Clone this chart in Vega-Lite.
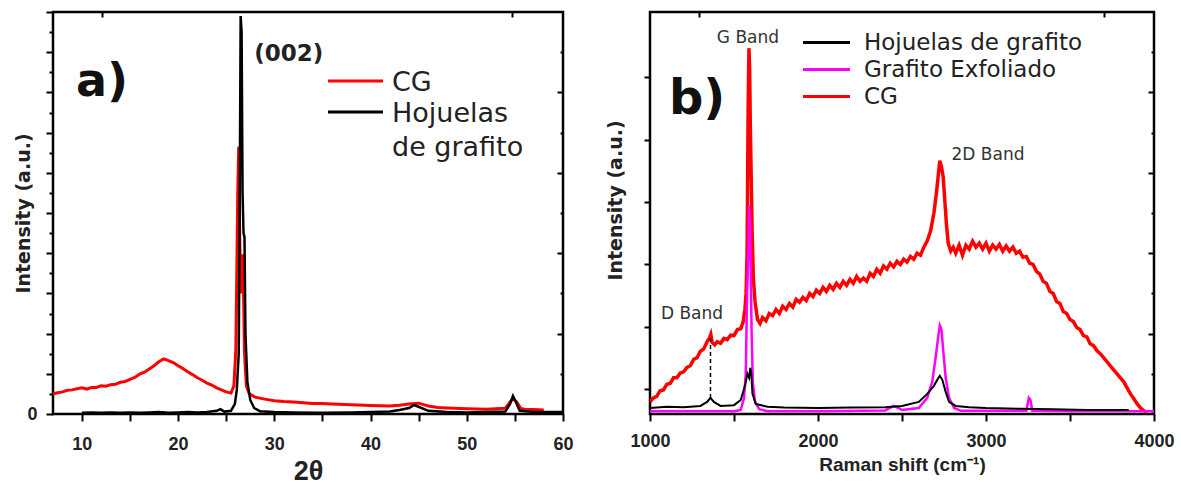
{
  "$schema": "https://vega.github.io/schema/vega-lite/v6.json",
  "background": "white",
  "padding": {"left": 12, "top": 1, "right": 0, "bottom": 0},
  "config": {
    "view": {"stroke": "black", "strokeWidth": 2.5},
    "axis": {"domain": false, "grid": false, "tickColor": "black", "tickWidth": 2, "labelFont": "Liberation Sans", "labelFontWeight": "bold", "labelFontSize": 18, "labelColor": "#222", "titleColor": "#222", "titleFont": "DejaVu Sans", "titleFontWeight": "bold"},
    "text": {"font": "DejaVu Sans"}
  },
  "datasets": {
    "xrd": [
      {"x":7,"y":0.5,"s":"CG"},{"x":7.5,"y":0.53,"s":"CG"},{"x":8,"y":0.55,"s":"CG"},{"x":8.5,"y":0.59,"s":"CG"},{"x":9,"y":0.6,"s":"CG"},{"x":9.5,"y":0.63,"s":"CG"},{"x":10,"y":0.65,"s":"CG"},{"x":10.5,"y":0.62,"s":"CG"},{"x":11,"y":0.66,"s":"CG"},{"x":11.5,"y":0.66,"s":"CG"},{"x":12,"y":0.7,"s":"CG"},{"x":12.5,"y":0.69,"s":"CG"},{"x":13,"y":0.73,"s":"CG"},{"x":13.5,"y":0.74,"s":"CG"},{"x":14,"y":0.79,"s":"CG"},{"x":14.5,"y":0.81,"s":"CG"},{"x":15,"y":0.86,"s":"CG"},{"x":15.5,"y":0.91,"s":"CG"},{"x":16,"y":0.99,"s":"CG"},{"x":16.5,"y":1.04,"s":"CG"},{"x":17,"y":1.12,"s":"CG"},{"x":17.5,"y":1.2,"s":"CG"},{"x":18,"y":1.3,"s":"CG"},{"x":18.5,"y":1.37,"s":"CG"},{"x":19,"y":1.33,"s":"CG"},{"x":19.5,"y":1.28,"s":"CG"},{"x":20,"y":1.2,"s":"CG"},{"x":20.5,"y":1.13,"s":"CG"},{"x":21,"y":1.05,"s":"CG"},{"x":21.5,"y":0.98,"s":"CG"},{"x":22,"y":0.9,"s":"CG"},{"x":22.5,"y":0.84,"s":"CG"},{"x":23,"y":0.77,"s":"CG"},{"x":23.5,"y":0.72,"s":"CG"},{"x":24,"y":0.65,"s":"CG"},{"x":24.5,"y":0.6,"s":"CG"},{"x":25,"y":0.55,"s":"CG"},{"x":25.5,"y":0.52,"s":"CG"},{"x":25.8,"y":0.7,"s":"CG"},{"x":26.0,"y":1.6,"s":"CG"},{"x":26.1,"y":3.5,"s":"CG"},{"x":26.2,"y":5.5,"s":"CG"},{"x":26.3,"y":6.65,"s":"CG"},{"x":26.4,"y":4.5,"s":"CG"},{"x":26.5,"y":3.0,"s":"CG"},{"x":26.6,"y":3.6,"s":"CG"},{"x":26.7,"y":3.97,"s":"CG"},{"x":26.8,"y":3.0,"s":"CG"},{"x":26.9,"y":1.5,"s":"CG"},{"x":27.1,"y":0.7,"s":"CG"},{"x":27.4,"y":0.5,"s":"CG"},{"x":28,"y":0.42,"s":"CG"},{"x":29,"y":0.37,"s":"CG"},{"x":30,"y":0.33,"s":"CG"},{"x":31,"y":0.31,"s":"CG"},{"x":32,"y":0.3,"s":"CG"},{"x":33,"y":0.28,"s":"CG"},{"x":34,"y":0.26,"s":"CG"},{"x":35,"y":0.26,"s":"CG"},{"x":36,"y":0.25,"s":"CG"},{"x":38,"y":0.23,"s":"CG"},{"x":40,"y":0.21,"s":"CG"},{"x":42,"y":0.2,"s":"CG"},{"x":43,"y":0.22,"s":"CG"},{"x":44,"y":0.25,"s":"CG"},{"x":45,"y":0.27,"s":"CG"},{"x":46,"y":0.2,"s":"CG"},{"x":47,"y":0.16,"s":"CG"},{"x":48,"y":0.15,"s":"CG"},{"x":50,"y":0.13,"s":"CG"},{"x":52,"y":0.12,"s":"CG"},{"x":54,"y":0.14,"s":"CG"},{"x":54.5,"y":0.3,"s":"CG"},{"x":54.8,"y":0.38,"s":"CG"},{"x":55.2,"y":0.3,"s":"CG"},{"x":55.6,"y":0.14,"s":"CG"},{"x":56,"y":0.12,"s":"CG"},{"x":57,"y":0.11,"s":"CG"},{"x":58,"y":0.1,"s":"CG"},
      {"x":10,"y":0.03,"s":"Hojuelas de grafito"},{"x":11,"y":0.04,"s":"Hojuelas de grafito"},{"x":12,"y":0.03,"s":"Hojuelas de grafito"},{"x":13,"y":0.04,"s":"Hojuelas de grafito"},{"x":14,"y":0.03,"s":"Hojuelas de grafito"},{"x":15,"y":0.04,"s":"Hojuelas de grafito"},{"x":16,"y":0.03,"s":"Hojuelas de grafito"},{"x":17,"y":0.04,"s":"Hojuelas de grafito"},{"x":18,"y":0.05,"s":"Hojuelas de grafito"},{"x":19,"y":0.03,"s":"Hojuelas de grafito"},{"x":20,"y":0.04,"s":"Hojuelas de grafito"},{"x":21,"y":0.05,"s":"Hojuelas de grafito"},{"x":22,"y":0.04,"s":"Hojuelas de grafito"},{"x":23,"y":0.05,"s":"Hojuelas de grafito"},{"x":24,"y":0.08,"s":"Hojuelas de grafito"},{"x":24.4,"y":0.12,"s":"Hojuelas de grafito"},{"x":24.8,"y":0.06,"s":"Hojuelas de grafito"},{"x":25.5,"y":0.08,"s":"Hojuelas de grafito"},{"x":25.9,"y":0.25,"s":"Hojuelas de grafito"},{"x":26.1,"y":0.6,"s":"Hojuelas de grafito"},{"x":26.3,"y":1.5,"s":"Hojuelas de grafito"},{"x":26.4,"y":5.0,"s":"Hojuelas de grafito"},{"x":26.5,"y":9.9,"s":"Hojuelas de grafito"},{"x":26.6,"y":9.5,"s":"Hojuelas de grafito"},{"x":26.7,"y":5.5,"s":"Hojuelas de grafito"},{"x":26.8,"y":4.5,"s":"Hojuelas de grafito"},{"x":26.9,"y":4.4,"s":"Hojuelas de grafito"},{"x":27.0,"y":2.0,"s":"Hojuelas de grafito"},{"x":27.2,"y":0.8,"s":"Hojuelas de grafito"},{"x":27.5,"y":0.35,"s":"Hojuelas de grafito"},{"x":27.9,"y":0.15,"s":"Hojuelas de grafito"},{"x":28.5,"y":0.07,"s":"Hojuelas de grafito"},{"x":30,"y":0.05,"s":"Hojuelas de grafito"},{"x":32,"y":0.04,"s":"Hojuelas de grafito"},{"x":35,"y":0.03,"s":"Hojuelas de grafito"},{"x":38,"y":0.04,"s":"Hojuelas de grafito"},{"x":40,"y":0.05,"s":"Hojuelas de grafito"},{"x":42,"y":0.06,"s":"Hojuelas de grafito"},{"x":43,"y":0.1,"s":"Hojuelas de grafito"},{"x":44,"y":0.15,"s":"Hojuelas de grafito"},{"x":44.5,"y":0.22,"s":"Hojuelas de grafito"},{"x":45,"y":0.18,"s":"Hojuelas de grafito"},{"x":46,"y":0.08,"s":"Hojuelas de grafito"},{"x":48,"y":0.05,"s":"Hojuelas de grafito"},{"x":50,"y":0.04,"s":"Hojuelas de grafito"},{"x":52,"y":0.05,"s":"Hojuelas de grafito"},{"x":54,"y":0.06,"s":"Hojuelas de grafito"},{"x":54.5,"y":0.25,"s":"Hojuelas de grafito"},{"x":54.8,"y":0.45,"s":"Hojuelas de grafito"},{"x":55.1,"y":0.3,"s":"Hojuelas de grafito"},{"x":55.5,"y":0.08,"s":"Hojuelas de grafito"},{"x":57,"y":0.05,"s":"Hojuelas de grafito"},{"x":60,"y":0.05,"s":"Hojuelas de grafito"}
    ],
    "raman": [
      {"x":1000,"y":0.3,"s":"CG"},{"x":1020,"y":0.4,"s":"CG"},{"x":1040,"y":0.44,"s":"CG"},{"x":1060,"y":0.58,"s":"CG"},{"x":1080,"y":0.6,"s":"CG"},{"x":1100,"y":0.74,"s":"CG"},{"x":1120,"y":0.76,"s":"CG"},{"x":1140,"y":0.9,"s":"CG"},{"x":1160,"y":0.9,"s":"CG"},{"x":1180,"y":1.02,"s":"CG"},{"x":1200,"y":1.05,"s":"CG"},{"x":1220,"y":1.16,"s":"CG"},{"x":1240,"y":1.2,"s":"CG"},{"x":1260,"y":1.36,"s":"CG"},{"x":1280,"y":1.4,"s":"CG"},{"x":1300,"y":1.56,"s":"CG"},{"x":1320,"y":1.62,"s":"CG"},{"x":1340,"y":1.8,"s":"CG"},{"x":1355,"y":1.9,"s":"CG"},{"x":1362,"y":1.98,"s":"CG"},{"x":1370,"y":1.78,"s":"CG"},{"x":1385,"y":1.72,"s":"CG"},{"x":1400,"y":1.8,"s":"CG"},{"x":1420,"y":1.76,"s":"CG"},{"x":1440,"y":1.88,"s":"CG"},{"x":1460,"y":1.85,"s":"CG"},{"x":1480,"y":1.96,"s":"CG"},{"x":1500,"y":1.95,"s":"CG"},{"x":1520,"y":2.1,"s":"CG"},{"x":1540,"y":2.12,"s":"CG"},{"x":1555,"y":2.3,"s":"CG"},{"x":1565,"y":2.6,"s":"CG"},{"x":1572,"y":3.0,"s":"CG"},{"x":1578,"y":4.0,"s":"CG"},{"x":1584,"y":7.5,"s":"CG"},{"x":1589,"y":9.1,"s":"CG"},{"x":1593,"y":8.6,"s":"CG"},{"x":1597,"y":7.2,"s":"CG"},{"x":1602,"y":6.0,"s":"CG"},{"x":1608,"y":4.5,"s":"CG"},{"x":1615,"y":3.4,"s":"CG"},{"x":1625,"y":2.8,"s":"CG"},{"x":1640,"y":2.35,"s":"CG"},{"x":1655,"y":2.25,"s":"CG"},{"x":1670,"y":2.4,"s":"CG"},{"x":1690,"y":2.32,"s":"CG"},{"x":1710,"y":2.5,"s":"CG"},{"x":1730,"y":2.45,"s":"CG"},{"x":1750,"y":2.6,"s":"CG"},{"x":1770,"y":2.5,"s":"CG"},{"x":1790,"y":2.68,"s":"CG"},{"x":1810,"y":2.6,"s":"CG"},{"x":1830,"y":2.75,"s":"CG"},{"x":1850,"y":2.66,"s":"CG"},{"x":1870,"y":2.85,"s":"CG"},{"x":1890,"y":2.78,"s":"CG"},{"x":1910,"y":2.9,"s":"CG"},{"x":1930,"y":2.82,"s":"CG"},{"x":1950,"y":3.0,"s":"CG"},{"x":1970,"y":2.92,"s":"CG"},{"x":1990,"y":3.08,"s":"CG"},{"x":2010,"y":3.0,"s":"CG"},{"x":2030,"y":3.15,"s":"CG"},{"x":2050,"y":3.05,"s":"CG"},{"x":2070,"y":3.2,"s":"CG"},{"x":2090,"y":3.1,"s":"CG"},{"x":2110,"y":3.25,"s":"CG"},{"x":2130,"y":3.15,"s":"CG"},{"x":2150,"y":3.3,"s":"CG"},{"x":2170,"y":3.2,"s":"CG"},{"x":2190,"y":3.35,"s":"CG"},{"x":2210,"y":3.25,"s":"CG"},{"x":2230,"y":3.42,"s":"CG"},{"x":2250,"y":3.3,"s":"CG"},{"x":2270,"y":3.38,"s":"CG"},{"x":2290,"y":3.3,"s":"CG"},{"x":2310,"y":3.5,"s":"CG"},{"x":2330,"y":3.42,"s":"CG"},{"x":2350,"y":3.6,"s":"CG"},{"x":2370,"y":3.5,"s":"CG"},{"x":2390,"y":3.68,"s":"CG"},{"x":2410,"y":3.6,"s":"CG"},{"x":2430,"y":3.75,"s":"CG"},{"x":2450,"y":3.66,"s":"CG"},{"x":2470,"y":3.8,"s":"CG"},{"x":2490,"y":3.72,"s":"CG"},{"x":2510,"y":3.85,"s":"CG"},{"x":2530,"y":3.78,"s":"CG"},{"x":2550,"y":3.92,"s":"CG"},{"x":2570,"y":3.85,"s":"CG"},{"x":2590,"y":4.0,"s":"CG"},{"x":2610,"y":3.95,"s":"CG"},{"x":2630,"y":4.15,"s":"CG"},{"x":2650,"y":4.3,"s":"CG"},{"x":2670,"y":4.55,"s":"CG"},{"x":2690,"y":5.0,"s":"CG"},{"x":2705,"y":5.5,"s":"CG"},{"x":2715,"y":5.9,"s":"CG"},{"x":2725,"y":6.3,"s":"CG"},{"x":2735,"y":6.15,"s":"CG"},{"x":2745,"y":5.9,"s":"CG"},{"x":2755,"y":5.3,"s":"CG"},{"x":2765,"y":4.7,"s":"CG"},{"x":2775,"y":4.25,"s":"CG"},{"x":2790,"y":4.05,"s":"CG"},{"x":2805,"y":4.15,"s":"CG"},{"x":2820,"y":4.0,"s":"CG"},{"x":2840,"y":4.2,"s":"CG"},{"x":2860,"y":3.95,"s":"CG"},{"x":2880,"y":4.2,"s":"CG"},{"x":2900,"y":4.1,"s":"CG"},{"x":2920,"y":4.3,"s":"CG"},{"x":2940,"y":4.15,"s":"CG"},{"x":2960,"y":4.25,"s":"CG"},{"x":2980,"y":4.1,"s":"CG"},{"x":3000,"y":4.25,"s":"CG"},{"x":3020,"y":4.05,"s":"CG"},{"x":3040,"y":4.2,"s":"CG"},{"x":3060,"y":4.1,"s":"CG"},{"x":3080,"y":4.22,"s":"CG"},{"x":3100,"y":4.05,"s":"CG"},{"x":3120,"y":4.18,"s":"CG"},{"x":3140,"y":4.05,"s":"CG"},{"x":3160,"y":4.15,"s":"CG"},{"x":3180,"y":4.0,"s":"CG"},{"x":3200,"y":4.05,"s":"CG"},{"x":3220,"y":3.9,"s":"CG"},{"x":3240,"y":3.92,"s":"CG"},{"x":3260,"y":3.75,"s":"CG"},{"x":3280,"y":3.72,"s":"CG"},{"x":3300,"y":3.55,"s":"CG"},{"x":3320,"y":3.48,"s":"CG"},{"x":3340,"y":3.3,"s":"CG"},{"x":3360,"y":3.25,"s":"CG"},{"x":3380,"y":3.05,"s":"CG"},{"x":3400,"y":3.0,"s":"CG"},{"x":3420,"y":2.8,"s":"CG"},{"x":3440,"y":2.75,"s":"CG"},{"x":3460,"y":2.55,"s":"CG"},{"x":3480,"y":2.5,"s":"CG"},{"x":3500,"y":2.35,"s":"CG"},{"x":3520,"y":2.3,"s":"CG"},{"x":3540,"y":2.15,"s":"CG"},{"x":3560,"y":2.1,"s":"CG"},{"x":3580,"y":1.95,"s":"CG"},{"x":3600,"y":1.92,"s":"CG"},{"x":3620,"y":1.75,"s":"CG"},{"x":3640,"y":1.7,"s":"CG"},{"x":3660,"y":1.58,"s":"CG"},{"x":3680,"y":1.5,"s":"CG"},{"x":3700,"y":1.4,"s":"CG"},{"x":3720,"y":1.3,"s":"CG"},{"x":3740,"y":1.2,"s":"CG"},{"x":3760,"y":1.1,"s":"CG"},{"x":3780,"y":1.0,"s":"CG"},{"x":3800,"y":0.9,"s":"CG"},{"x":3820,"y":0.8,"s":"CG"},{"x":3840,"y":0.65,"s":"CG"},{"x":3860,"y":0.5,"s":"CG"},{"x":3880,"y":0.38,"s":"CG"},{"x":3900,"y":0.25,"s":"CG"},{"x":3920,"y":0.15,"s":"CG"},{"x":3940,"y":0.08,"s":"CG"},{"x":3960,"y":0.04,"s":"CG"},
      {"x":1000,"y":0.07,"s":"Grafito Exfoliado"},{"x":1500,"y":0.07,"s":"Grafito Exfoliado"},{"x":1540,"y":0.1,"s":"Grafito Exfoliado"},{"x":1560,"y":0.4,"s":"Grafito Exfoliado"},{"x":1570,"y":1.0,"s":"Grafito Exfoliado"},{"x":1578,"y":3.0,"s":"Grafito Exfoliado"},{"x":1585,"y":4.0,"s":"Grafito Exfoliado"},{"x":1590,"y":5.2,"s":"Grafito Exfoliado"},{"x":1595,"y":4.8,"s":"Grafito Exfoliado"},{"x":1600,"y":3.5,"s":"Grafito Exfoliado"},{"x":1605,"y":2.0,"s":"Grafito Exfoliado"},{"x":1612,"y":0.8,"s":"Grafito Exfoliado"},{"x":1625,"y":0.3,"s":"Grafito Exfoliado"},{"x":1650,"y":0.12,"s":"Grafito Exfoliado"},{"x":1700,"y":0.07,"s":"Grafito Exfoliado"},{"x":2000,"y":0.07,"s":"Grafito Exfoliado"},{"x":2400,"y":0.09,"s":"Grafito Exfoliado"},{"x":2450,"y":0.2,"s":"Grafito Exfoliado"},{"x":2480,"y":0.15,"s":"Grafito Exfoliado"},{"x":2500,"y":0.1,"s":"Grafito Exfoliado"},{"x":2600,"y":0.15,"s":"Grafito Exfoliado"},{"x":2650,"y":0.4,"s":"Grafito Exfoliado"},{"x":2680,"y":0.8,"s":"Grafito Exfoliado"},{"x":2700,"y":1.4,"s":"Grafito Exfoliado"},{"x":2715,"y":1.9,"s":"Grafito Exfoliado"},{"x":2725,"y":2.2,"s":"Grafito Exfoliado"},{"x":2735,"y":2.1,"s":"Grafito Exfoliado"},{"x":2745,"y":1.6,"s":"Grafito Exfoliado"},{"x":2760,"y":0.9,"s":"Grafito Exfoliado"},{"x":2780,"y":0.4,"s":"Grafito Exfoliado"},{"x":2810,"y":0.15,"s":"Grafito Exfoliado"},{"x":2850,"y":0.08,"s":"Grafito Exfoliado"},{"x":3240,"y":0.08,"s":"Grafito Exfoliado"},{"x":3255,"y":0.4,"s":"Grafito Exfoliado"},{"x":3265,"y":0.35,"s":"Grafito Exfoliado"},{"x":3275,"y":0.08,"s":"Grafito Exfoliado"},{"x":3500,"y":0.07,"s":"Grafito Exfoliado"},{"x":4000,"y":0.07,"s":"Grafito Exfoliado"},
      {"x":1000,"y":0.15,"s":"Hojuelas de grafito"},{"x":1100,"y":0.18,"s":"Hojuelas de grafito"},{"x":1200,"y":0.17,"s":"Hojuelas de grafito"},{"x":1300,"y":0.2,"s":"Hojuelas de grafito"},{"x":1340,"y":0.3,"s":"Hojuelas de grafito"},{"x":1360,"y":0.4,"s":"Hojuelas de grafito"},{"x":1380,"y":0.3,"s":"Hojuelas de grafito"},{"x":1420,"y":0.2,"s":"Hojuelas de grafito"},{"x":1500,"y":0.22,"s":"Hojuelas de grafito"},{"x":1540,"y":0.35,"s":"Hojuelas de grafito"},{"x":1565,"y":0.7,"s":"Hojuelas de grafito"},{"x":1580,"y":1.0,"s":"Hojuelas de grafito"},{"x":1590,"y":0.9,"s":"Hojuelas de grafito"},{"x":1597,"y":1.15,"s":"Hojuelas de grafito"},{"x":1603,"y":1.0,"s":"Hojuelas de grafito"},{"x":1610,"y":0.5,"s":"Hojuelas de grafito"},{"x":1630,"y":0.25,"s":"Hojuelas de grafito"},{"x":1700,"y":0.18,"s":"Hojuelas de grafito"},{"x":1800,"y":0.16,"s":"Hojuelas de grafito"},{"x":2000,"y":0.15,"s":"Hojuelas de grafito"},{"x":2200,"y":0.16,"s":"Hojuelas de grafito"},{"x":2400,"y":0.17,"s":"Hojuelas de grafito"},{"x":2500,"y":0.2,"s":"Hojuelas de grafito"},{"x":2600,"y":0.3,"s":"Hojuelas de grafito"},{"x":2650,"y":0.5,"s":"Hojuelas de grafito"},{"x":2690,"y":0.7,"s":"Hojuelas de grafito"},{"x":2710,"y":0.85,"s":"Hojuelas de grafito"},{"x":2725,"y":0.95,"s":"Hojuelas de grafito"},{"x":2740,"y":0.85,"s":"Hojuelas de grafito"},{"x":2760,"y":0.55,"s":"Hojuelas de grafito"},{"x":2780,"y":0.3,"s":"Hojuelas de grafito"},{"x":2820,"y":0.2,"s":"Hojuelas de grafito"},{"x":2900,"y":0.17,"s":"Hojuelas de grafito"},{"x":3000,"y":0.15,"s":"Hojuelas de grafito"},{"x":3200,"y":0.13,"s":"Hojuelas de grafito"},{"x":3400,"y":0.12,"s":"Hojuelas de grafito"},{"x":3600,"y":0.1,"s":"Hojuelas de grafito"},{"x":3850,"y":0.1,"s":"Hojuelas de grafito"}
    ]
  },
  "hconcat": [
    {
      "width": 510,
      "height": 402,
      "layer": [
        {
          "data": {"name": "xrd"},
          "transform": [{"filter": "datum.s === 'CG'"}],
          "mark": {"type": "line", "color": "#ff0000", "strokeWidth": 3, "clip": true},
          "encoding": {
            "x": {"field": "x", "type": "quantitative", "scale": {"domain": [7, 60], "nice": false, "zero": false},
              "axis": {"orient": "bottom", "values": [10,15,20,25,30,35,40,45,50,55,60], "labelExpr": "datum.value % 10 === 0 ? datum.label : ''", "tickSize": 7, "labelPadding": 14, "title": "2θ", "titleFont": "Liberation Sans", "titleFontSize": 27, "titlePadding": 5, "labelFlush": false, "labelOverlap": false}},
            "y": {"field": "y", "type": "quantitative", "scale": {"domain": [0, 10], "nice": false},
              "axis": {"orient": "left", "values": [0,0.5,1,1.5,2,2.5,3,3.5,4,4.5,5,5.5,6,6.5,7,7.5,8,8.5,9,9.5,10], "labelExpr": "datum.value === 0 ? '0' : ''", "tickSize": {"condition": {"test": "datum.value % 1 === 0", "value": 7}, "value": 4}, "labelPadding": 9, "minExtent": 16, "maxExtent": 16, "title": "Intensity (a.u.)", "titleFontSize": 19, "titlePadding": 4, "labelOverlap": false}},
            "color": {"field": "s", "type": "nominal", "scale": {"domain": ["CG", "Hojuelas de grafito"], "range": ["#ff0000", "#000000"]},
              "legend": {"orient": "none", "legendX": 289, "legendY": 65, "title": null, "padding": 0, "symbolType": "M-5.5,-1.9H5.5", "symbolSize": 100, "symbolStrokeWidth": 3, "labelFont": "DejaVu Sans", "labelFontSize": 27, "labelColor": "#222", "labelBaseline": "alphabetic", "labelOffset": 23, "labelLimit": 400, "rowPadding": 3, "labelExpr": "datum.label === 'Hojuelas de grafito' ? ['Hojuelas', 'de grafito'] : datum.label", "encode": {"labels": {"update": {"lineHeight": {"value": 34}}}}}}
          }
        },
        {
          "data": {"name": "xrd"},
          "transform": [{"filter": "datum.s === 'Hojuelas de grafito'"}],
          "mark": {"type": "line", "color": "#000000", "strokeWidth": 2.5, "clip": true},
          "encoding": {
            "x": {"field": "x", "type": "quantitative", "scale": {"domain": [7, 60], "nice": false, "zero": false},
              "axis": {"orient": "top", "values": [12.1, 54.7], "labels": false, "tickSize": -5, "title": null, "maxExtent": 0}},
            "y": {"field": "y", "type": "quantitative", "scale": {"domain": [0, 10], "nice": false},
              "axis": {"orient": "right", "values": [1,2,3,4,5,6,7,8,9], "labels": false, "tickSize": {"condition": {"test": "datum.value % 2 === 0", "value": -6}, "value": -3}, "title": null, "maxExtent": 0}},
            "color": {"field": "s", "type": "nominal", "scale": {"domain": ["CG", "Hojuelas de grafito"], "range": ["#ff0000", "#000000"]},
              "legend": {"orient": "none", "legendX": 289, "legendY": 65, "title": null, "padding": 0, "symbolType": "M-5.5,-1.9H5.5", "symbolSize": 100, "symbolStrokeWidth": 3, "labelFont": "DejaVu Sans", "labelFontSize": 27, "labelColor": "#222", "labelBaseline": "alphabetic", "labelOffset": 23, "labelLimit": 400, "rowPadding": 3, "labelExpr": "datum.label === 'Hojuelas de grafito' ? ['Hojuelas', 'de grafito'] : datum.label", "encode": {"labels": {"update": {"lineHeight": {"value": 34}}}}}}
          }
        },
        {
          "data": {"values": [{"x": 12.1, "y": 8.26, "t": "a)"}]},
          "mark": {"type": "text", "font": "DejaVu Sans", "fontWeight": "bold", "fontSize": 46, "color": "#111", "align": "center", "baseline": "middle"},
          "encoding": {
            "x": {"field": "x", "type": "quantitative", "scale": {"domain": [7, 60], "nice": false, "zero": false}, "axis": null},
            "y": {"field": "y", "type": "quantitative", "scale": {"domain": [0, 10], "nice": false}, "axis": null},
            "text": {"field": "t"}
          }
        },
        {
          "data": {"values": [{"x": 31.5, "y": 8.95, "t": "(002)"}]},
          "mark": {"type": "text", "font": "DejaVu Sans", "fontWeight": "bold", "fontSize": 23, "color": "#222", "align": "center", "baseline": "middle"},
          "encoding": {
            "x": {"field": "x", "type": "quantitative", "scale": {"domain": [7, 60], "nice": false, "zero": false}, "axis": null},
            "y": {"field": "y", "type": "quantitative", "scale": {"domain": [0, 10], "nice": false}, "axis": null},
            "text": {"field": "t"}
          }
        }
      ],
      "resolve": {"axis": {"x": "independent", "y": "independent"}}
    },
    {
      "width": 504,
      "height": 402,
      "layer": [
        {
          "data": {"name": "raman"},
          "transform": [{"filter": "datum.s === 'CG'"}],
          "mark": {"type": "line", "color": "#ff0000", "strokeWidth": 3.5, "clip": true},
          "encoding": {
            "x": {"field": "x", "type": "quantitative", "scale": {"domain": [1000, 4000], "nice": false, "zero": false},
              "axis": {"orient": "bottom", "values": [1000,1500,2000,2500,3000,3500,4000], "format": "d", "labelExpr": "datum.value % 1000 === 0 ? datum.label : ''", "tickSize": 7, "labelPadding": 11, "title": "Raman shift (cm⁻¹)", "titleFont": "Liberation Sans", "titleFontSize": 19, "titlePadding": 5, "labelFlush": false, "labelOverlap": false}},
            "y": {"field": "y", "type": "quantitative", "scale": {"domain": [0, 10], "nice": false},
              "axis": {"orient": "left", "values": [0.625, 2.175, 3.725, 5.275, 6.825, 8.375], "labels": false, "tickSize": 6, "minExtent": 21, "maxExtent": 21, "title": "Intensity (a.u.)", "titleFontSize": 19, "titlePadding": 4, "titleY": 188}},
            "color": {"field": "s", "type": "nominal", "scale": {"domain": ["Hojuelas de grafito", "Grafito Exfoliado", "CG"], "range": ["#000000", "#ff00ff", "#ff0000"]},
              "legend": {"orient": "none", "legendX": 165, "legendY": 19, "title": null, "padding": 0, "symbolType": "M-4.7,0H4.7", "symbolSize": 100, "symbolStrokeWidth": 3, "labelFont": "DejaVu Sans", "labelFontSize": 23, "labelColor": "#222", "labelOffset": 26, "labelLimit": 400, "rowPadding": 3}}
          }
        },
        {
          "data": {"name": "raman"},
          "transform": [{"filter": "datum.s === 'Grafito Exfoliado'"}],
          "mark": {"type": "line", "color": "#ff00ff", "strokeWidth": 2.5, "clip": true},
          "encoding": {
            "x": {"field": "x", "type": "quantitative", "scale": {"domain": [1000, 4000], "nice": false, "zero": false},
              "axis": {"orient": "top", "values": [1292, 3702], "labels": false, "tickSize": -5, "title": null, "maxExtent": 0}},
            "y": {"field": "y", "type": "quantitative", "scale": {"domain": [0, 10], "nice": false},
              "axis": {"orient": "right", "values": [1,2,3,4,5,6,7,8,9], "labels": false, "tickSize": {"condition": {"test": "datum.value % 2 === 0", "value": -6}, "value": -3}, "title": null, "maxExtent": 0}},
            "color": {"field": "s", "type": "nominal", "scale": {"domain": ["Hojuelas de grafito", "Grafito Exfoliado", "CG"], "range": ["#000000", "#ff00ff", "#ff0000"]},
              "legend": {"orient": "none", "legendX": 165, "legendY": 19, "title": null, "padding": 0, "symbolType": "M-4.7,0H4.7", "symbolSize": 100, "symbolStrokeWidth": 3, "labelFont": "DejaVu Sans", "labelFontSize": 23, "labelColor": "#222", "labelOffset": 26, "labelLimit": 400, "rowPadding": 3}}
          }
        },
        {
          "data": {"name": "raman"},
          "transform": [{"filter": "datum.s === 'Hojuelas de grafito'"}],
          "mark": {"type": "line", "color": "#000000", "strokeWidth": 2, "clip": true},
          "encoding": {
            "x": {"field": "x", "type": "quantitative", "scale": {"domain": [1000, 4000], "nice": false, "zero": false}, "axis": null},
            "y": {"field": "y", "type": "quantitative", "scale": {"domain": [0, 10], "nice": false}, "axis": null},
            "color": {"field": "s", "type": "nominal", "scale": {"domain": ["Hojuelas de grafito", "Grafito Exfoliado", "CG"], "range": ["#000000", "#ff00ff", "#ff0000"]},
              "legend": {"orient": "none", "legendX": 165, "legendY": 19, "title": null, "padding": 0, "symbolType": "M-4.7,0H4.7", "symbolSize": 100, "symbolStrokeWidth": 3, "labelFont": "DejaVu Sans", "labelFontSize": 23, "labelColor": "#222", "labelOffset": 26, "labelLimit": 400, "rowPadding": 3}}
          }
        },
        {
          "data": {"values": [{"x": 1360, "y": 0.4, "y2": 1.9}]},
          "mark": {"type": "rule", "color": "#000000", "strokeWidth": 1.5, "strokeDash": [4, 3]},
          "encoding": {
            "x": {"field": "x", "type": "quantitative", "scale": {"domain": [1000, 4000], "nice": false, "zero": false}, "axis": null},
            "y": {"field": "y", "type": "quantitative", "scale": {"domain": [0, 10], "nice": false}, "axis": null},
            "y2": {"field": "y2"}
          }
        },
        {
          "data": {"values": [{"x": 1280, "y": 7.82, "t": "b)"}]},
          "mark": {"type": "text", "font": "DejaVu Sans", "fontWeight": "bold", "fontSize": 48, "color": "#111", "align": "center", "baseline": "middle"},
          "encoding": {
            "x": {"field": "x", "type": "quantitative", "scale": {"domain": [1000, 4000], "nice": false, "zero": false}, "axis": null},
            "y": {"field": "y", "type": "quantitative", "scale": {"domain": [0, 10], "nice": false}, "axis": null},
            "text": {"field": "t"}
          }
        },
        {
          "data": {"values": [{"x": 1583, "y": 9.35, "t": "G Band"}, {"x": 1250, "y": 2.5, "t": "D Band"}, {"x": 3012, "y": 6.45, "t": "2D Band"}]},
          "mark": {"type": "text", "font": "DejaVu Sans", "fontSize": 17, "color": "#333", "align": "center", "baseline": "middle"},
          "encoding": {
            "x": {"field": "x", "type": "quantitative", "scale": {"domain": [1000, 4000], "nice": false, "zero": false}, "axis": null},
            "y": {"field": "y", "type": "quantitative", "scale": {"domain": [0, 10], "nice": false}, "axis": null},
            "text": {"field": "t"}
          }
        }
      ],
      "resolve": {"axis": {"x": "independent", "y": "independent"}}
    }
  ],
  "spacing": 87,
  "bounds": "flush",
  "resolve": {"scale": {"color": "independent"}}
}
